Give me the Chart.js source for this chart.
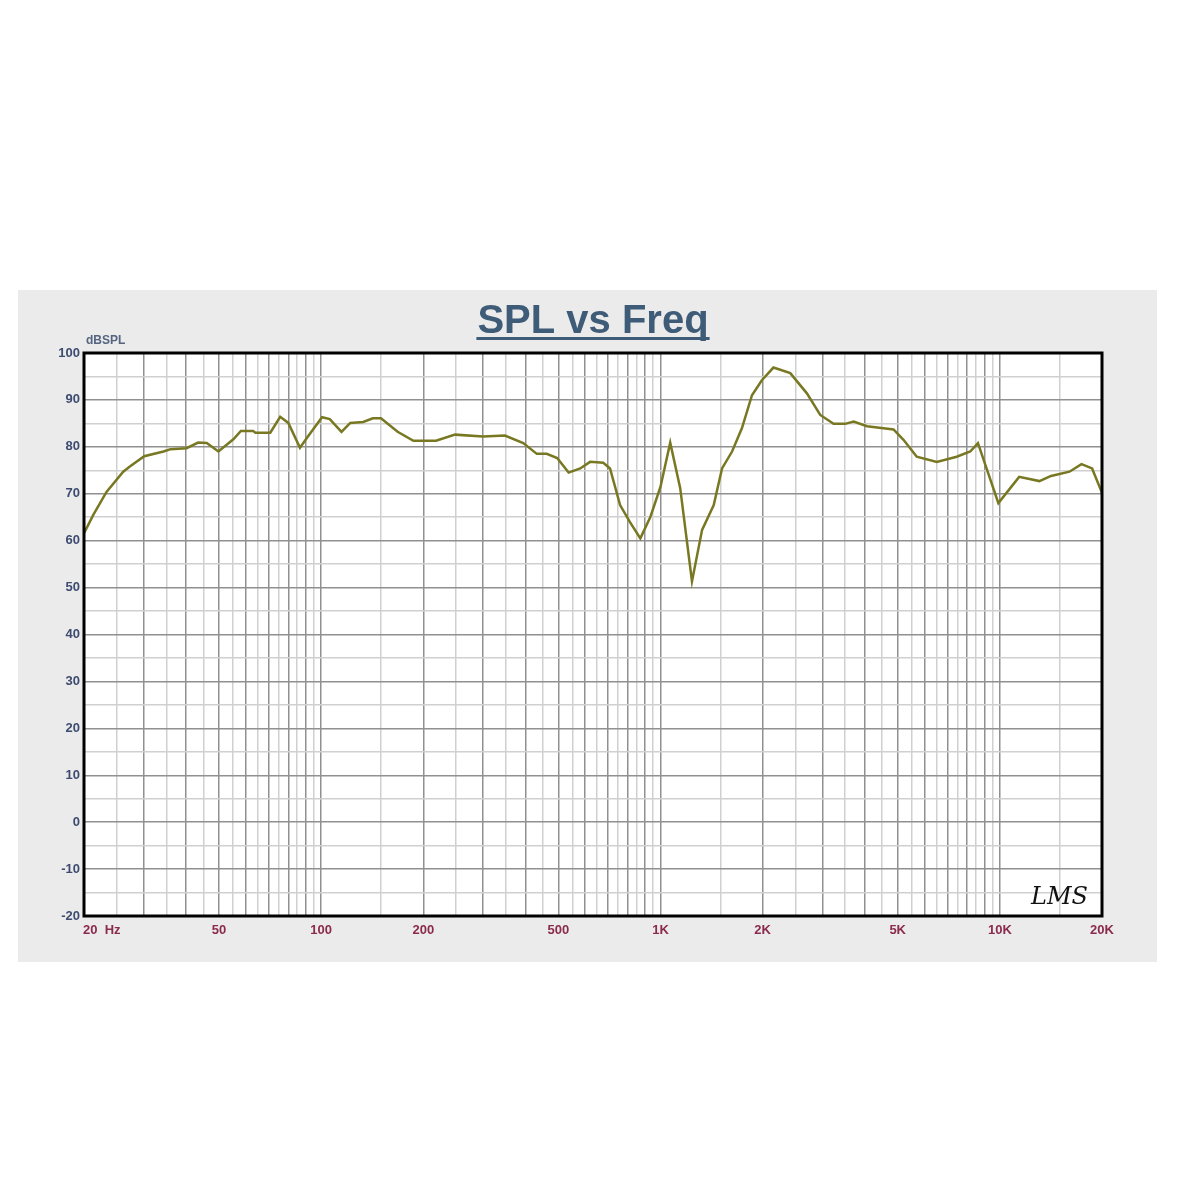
<!DOCTYPE html>
<html>
<head>
<meta charset="utf-8">
<script src="https://cdn.jsdelivr.net/npm/chart.js@4.4.1/dist/chart.umd.min.js"></script>
<style>
  html, body { margin: 0; padding: 0; background: #ffffff; width: 1200px; height: 1200px; overflow: hidden; }
  #panel { position: absolute; left: 18px; top: 290px; width: 1139px; height: 672px; background: #ebebeb; }
</style>
</head>
<body>
<div id="panel"><canvas id="c"></canvas></div>
<script>
// ---- data ----
const freqHz = [20, 21.3, 23.3, 26.1, 27.3, 30.1, 34.3, 36, 40.1, 43.4, 46, 49.8, 55.1, 58, 63, 64, 70.8, 75.7, 80, 86.6,
  91.6, 100.6, 106, 114.8, 121.8, 133, 142, 150, 168, 187, 218, 248, 300, 348, 394, 432, 462, 496, 536, 580,
  620, 678, 710, 760, 812, 872, 934, 1000, 1068, 1143, 1238, 1326, 1435, 1518, 1625, 1738, 1860, 1989, 2152, 2412,
  2700, 2956, 3236, 3500, 3708, 4060, 4860, 5200, 5690, 6520, 7460, 8180, 8620, 9900, 11400, 13080, 14150, 16040, 17400, 18700,
  20000];
const splDb = [61.6, 65.5, 70.4, 74.7, 75.8, 78.0, 79.0, 79.5, 79.7, 80.9, 80.8, 79.0, 81.6, 83.4, 83.4, 83.0, 83.0, 86.4, 85.1, 79.8,
  82.3, 86.3, 85.9, 83.2, 85.1, 85.3, 86.1, 86.1, 83.2, 81.3, 81.3, 82.6, 82.2, 82.4, 80.8, 78.5, 78.5, 77.6, 74.5, 75.4,
  76.8, 76.6, 75.4, 67.6, 64.0, 60.5, 65.1, 71.5, 80.9, 71.2, 51.3, 62.3, 67.6, 75.4, 79.0, 84.0, 91.0, 94.2, 96.9, 95.7,
  91.4, 86.8, 84.9, 84.9, 85.4, 84.4, 83.7, 81.5, 77.9, 76.8, 77.9, 79.0, 80.8, 68.0, 73.6, 72.7, 73.8, 74.7, 76.3, 75.4,
  70.2];
const xTickValues = [20, 50, 100, 200, 500, 1000, 2000, 5000, 10000, 20000];
const xTickLabels = ['20  Hz', '50', '100', '200', '500', '1K', '2K', '5K', '10K', '20K'];
const yMin = -20, yMax = 100, yStep = 5;
const titleText = 'SPL vs Freq';
const yUnitText = 'dBSPL';
const logoText = 'LMS';

// grid values for log axis: integer multiples and half steps within each decade
const xGridValues = [];
[10, 100, 1000, 10000].forEach(d => {
  for (let k = 1; k <= 9; k++) {
    [k * d, (k + 0.5) * d].forEach(v => { if (v >= 20 && v <= 20000) xGridValues.push(v); });
  }
});
xGridValues.sort((a, b) => a - b);

function isMajorLog(v) {
  const d = Math.pow(10, Math.floor(Math.log10(v) + 1e-9));
  const m = v / d;
  return Math.abs(m - Math.round(m)) < 1e-6;
}

const MAJOR = '#909090', MINOR = '#d0d0d0';

const decor = {
  id: 'decor',
  beforeDraw(chart) {
    const { ctx, chartArea: a } = chart;
    ctx.save();
    ctx.fillStyle = '#ffffff';
    ctx.fillRect(a.left, a.top, a.right - a.left, a.bottom - a.top);
    ctx.restore();
  },
  afterDraw(chart) {
    const { ctx, chartArea: a } = chart;
    const xs = chart.scales.x;
    ctx.save();
    // frame
    ctx.strokeStyle = '#000000';
    ctx.lineWidth = 3;
    ctx.strokeRect(a.left, a.top, a.right - a.left, a.bottom - a.top);
    // title
    ctx.font = 'bold 40px "Liberation Sans", Arial, sans-serif';
    ctx.fillStyle = '#3e5c77';
    ctx.textAlign = 'center';
    ctx.textBaseline = 'alphabetic';
    const cx = 575;
    ctx.fillText(titleText, cx, 43);
    const w = ctx.measureText(titleText).width;
    ctx.fillRect(cx - w / 2 - 1, 47, w + 2, 3);
    // y unit
    ctx.font = 'bold 12px "Liberation Sans", Arial, sans-serif';
    ctx.fillStyle = '#55647f';
    ctx.textAlign = 'left';
    ctx.textBaseline = 'middle';
    ctx.fillText(yUnitText, a.left + 2, a.top - 12);
    // x tick labels positioned by the x scale
    ctx.font = 'bold 13px "Liberation Sans", Arial, sans-serif';
    ctx.fillStyle = '#8a2a4c';
    ctx.textBaseline = 'middle';
    xTickValues.forEach((v, i) => {
      const px = xs.getPixelForValue(v);
      ctx.textAlign = i === 0 ? 'left' : 'center';
      ctx.fillText(xTickLabels[i], i === 0 ? px - 1 : px, a.bottom + 14);
    });
    // logo
    ctx.font = 'italic 24px "DejaVu Serif", serif';
    ctx.fillStyle = '#111111';
    ctx.textAlign = 'right';
    ctx.textBaseline = 'alphabetic';
    ctx.fillText(logoText, a.right - 14, a.bottom - 12);
    ctx.restore();
  }
};

new Chart(document.getElementById('c'), {
  type: 'line',
  data: {
    datasets: [{
      label: 'SPL',
      data: freqHz.map((f, i) => ({ x: f, y: splDb[i] })),
      borderColor: '#787822',
      borderWidth: 2.5,
      pointRadius: 0,
      tension: 0,
      fill: false
    }]
  },
  options: {
    responsive: true,
    maintainAspectRatio: false,
    animation: false,
    layout: { padding: { top: 63, right: 55, left: 0, bottom: 0 } },
    plugins: { legend: { display: false }, tooltip: { enabled: false }, title: { display: false } },
    scales: {
      x: {
        type: 'logarithmic',
        min: 20, max: 20000,
        afterBuildTicks(scale) { scale.ticks = xGridValues.map(v => ({ value: v })); },
        afterFit(scale) { scale.height = 46; },
        ticks: { display: false },
        border: { display: false },
        grid: {
          drawTicks: false,
          color: c => (c.tick && isMajorLog(c.tick.value)) ? MAJOR : MINOR,
          lineWidth: 1.5
        }
      },
      y: {
        type: 'linear',
        min: yMin, max: yMax,
        afterFit(scale) { scale.width = 66; },
        border: { display: false },
        ticks: {
          stepSize: yStep,
          padding: 4,
          color: '#3d4b70',
          font: { family: '"Liberation Sans", Arial, sans-serif', size: 13, weight: 'bold' },
          callback: v => (v % 10 === 0 ? String(v) : '')
        },
        grid: {
          drawTicks: false,
          color: c => (c.tick && c.tick.value % 10 === 0) ? MAJOR : MINOR,
          lineWidth: 1.5
        }
      }
    }
  },
  plugins: [decor]
});
</script>
</body>
</html>
